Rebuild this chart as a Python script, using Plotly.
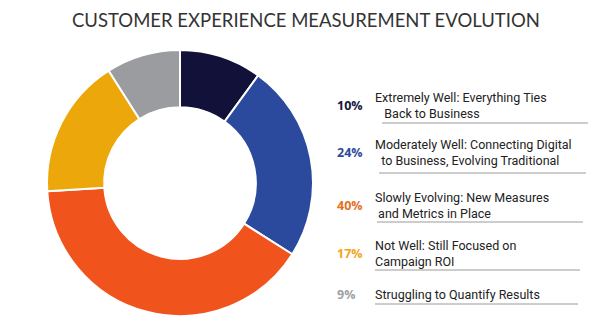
import plotly.graph_objects as go

title = "CUSTOMER EXPERIENCE MEASUREMENT EVOLUTION"
categories = [
    "Extremely Well: Everything Ties<br>   Back to Business",
    "Moderately Well: Connecting Digital<br>  to Business, Evolving Traditional",
    "Slowly Evolving: New Measures<br> and Metrics in Place",
    "Not Well: Still Focused on<br>Campaign ROI",
    "Struggling to Quantify Results",
]
values = [10, 24, 40, 17, 9]
slice_colors = ["#11113a", "#2b4a9e", "#f1531d", "#eca80a", "#9b9ca0"]
pct_colors = ["#15153d", "#2d4b9c", "#e3711f", "#f2a51c", "#9fa0a3"]

W, H = 615, 335

fig = go.Figure()
fig.add_trace(go.Pie(
    values=values,
    labels=[c.replace("<br>", " ") for c in categories],
    hole=0.57,
    sort=False,
    direction="clockwise",
    rotation=0,
    marker=dict(colors=slice_colors, line=dict(color="white", width=2)),
    textinfo="none",
    hoverinfo="label+percent",
    domain=dict(x=[47 / W, 313 / W], y=[1 - 316 / H, 1 - 50 / H]),
    showlegend=False,
))

# legend rows: y center (px), underline y, underline x-range
row_y = [105, 153, 205, 253, 294]
line_y = [123, 173, 222, 270, 304]
line_x = [(382, 588), (379, 586), (377, 583), (375, 580), (375, 578)]

annotations = [dict(
    text=title, x=306 / W, y=1 - 20 / H, xref="paper", yref="paper",
    showarrow=False, xanchor="center", yanchor="middle",
    font=dict(family="Lato", size=18.5, color="#333333"),
)]
shapes = []
for i, (cat, v) in enumerate(zip(categories, values)):
    annotations.append(dict(
        text=f"<b>{v}%</b>", x=335 / W, y=1 - row_y[i] / H,
        xref="paper", yref="paper", showarrow=False,
        xanchor="left", yanchor="middle",
        font=dict(family="Open Sans", size=12.5, color=pct_colors[i]),
    ))
    annotations.append(dict(
        text=cat, x=373 / W, y=1 - row_y[i] / H,
        xref="paper", yref="paper", showarrow=False,
        xanchor="left", yanchor="middle", align="left",
        font=dict(family="Roboto", size=12.5, color="#222222"),
    ))
    shapes.append(dict(
        type="line", xref="paper", yref="paper",
        x0=line_x[i][0] / W, x1=line_x[i][1] / W,
        y0=1 - line_y[i] / H, y1=1 - line_y[i] / H,
        line=dict(color="#9a9a9a", width=1),
    ))

fig.update_layout(
    width=W, height=H,
    margin=dict(l=0, r=0, t=0, b=0),
    paper_bgcolor="white", plot_bgcolor="white",
    annotations=annotations, shapes=shapes,
)

fig.write_html("out.html")
